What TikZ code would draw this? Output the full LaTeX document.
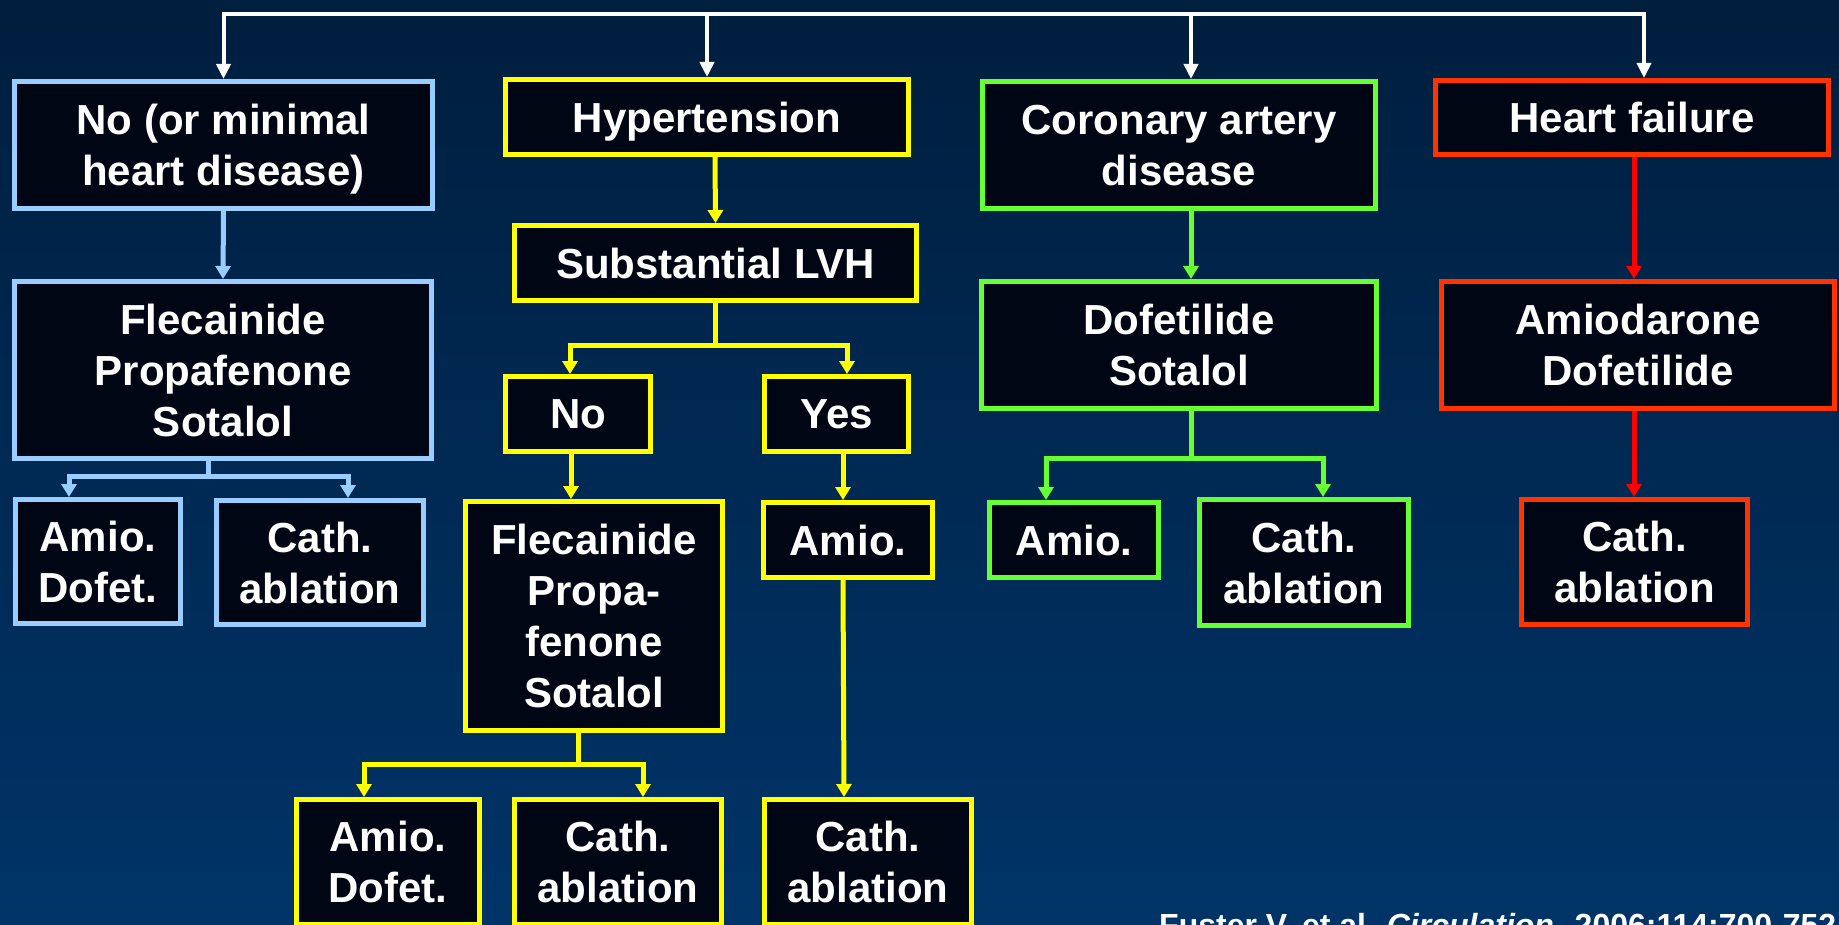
\documentclass[tikz,border=0pt]{standalone}
\usepackage{fontspec}
\setmainfont{Liberation Sans}
\usepackage{xcolor}
\usetikzlibrary{arrows.meta}
\definecolor{mytop}{RGB}{0,30,62}
\definecolor{mybottom}{RGB}{0,52,104}
\definecolor{myblack}{RGB}{0,6,20}
\definecolor{myblue}{RGB}{153,204,255}
\definecolor{myyellow}{RGB}{255,255,0}
\definecolor{mygreen}{RGB}{102,255,51}
\definecolor{myorange}{RGB}{255,51,0}
\definecolor{myred}{RGB}{255,0,0}

\begin{document}
\begin{tikzpicture}[x=1pt,y=-1pt,
box/.style={draw,fill=myblack,line width=5pt,text=white,align=center,inner sep=0pt,text depth=0pt,
  font=\bfseries\fontsize{42}{51}\selectfont},
link/.style={line width=5pt,-{Triangle[length=13pt,width=15pt]}},
stem/.style={line width=5pt},
wlink/.style={white,line width=4pt,-{Triangle[length=15pt,width=14pt]}}]

%frame
\clip (0,0) rectangle (1839,925);
\shade[top color=mytop,bottom color=mybottom] (0,0) rectangle (1839,925);

%no heart disease
\node[box,draw=myblue,minimum width=418pt,minimum height=127pt] (nomin) at (223.5,145) {No (or minimal\\heart disease)};
\node[box,draw=myblue,minimum width=417pt,minimum height=177pt] (leftdrug) at (223,370) {Flecainide\\Propafenone\\Sotalol};
\node[box,draw=myblue,minimum width=165pt,minimum height=124pt] (leftamio) at (98,561.5) {Amio.\\Dofet.};
\node[box,draw=myblue,minimum width=207pt,minimum height=124pt] (leftcath) at (320,562.5) {Cath.\\ablation};

%hypertension
\node[box,draw=myyellow,minimum width=403pt,minimum height=75pt] (hyper) at (707,117) {Hypertension};
\node[box,draw=myyellow,minimum width=402pt,minimum height=75pt] (lvh) at (715.5,263) {Substantial LVH};
\node[box,draw=myyellow,minimum width=145pt,minimum height=75pt] (lvhno) at (578,414) {No};
\node[box,draw=myyellow,minimum width=144pt,minimum height=75pt] (lvhyes) at (836.5,414) {Yes};
\node[box,draw=myyellow,minimum width=257pt,minimum height=229pt] (middrug) at (594,616) {Flecainide\\Propa-\\fenone\\Sotalol};
\node[box,draw=myyellow,minimum width=169pt,minimum height=75pt] (yesamio) at (848,540) {Amio.};
\node[box,draw=myyellow,minimum width=183pt,minimum height=125pt] (botamio) at (388,862) {Amio.\\Dofet.};
\node[box,draw=myyellow,minimum width=207pt,minimum height=125pt] (botcath) at (618,862) {Cath.\\ablation};
\node[box,draw=myyellow,minimum width=207pt,minimum height=125pt] (yescath) at (868,862) {Cath.\\ablation};

%coronary artery disease
\node[box,draw=mygreen,minimum width=393pt,minimum height=127pt] (cad) at (1179,145) {Coronary artery\\disease};
\node[box,draw=mygreen,minimum width=395pt,minimum height=127pt] (caddrug) at (1179,345) {Dofetilide\\Sotalol};
\node[box,draw=mygreen,minimum width=169pt,minimum height=75pt] (cadamio) at (1074,540) {Amio.};
\node[box,draw=mygreen,minimum width=209pt,minimum height=126pt] (cadcath) at (1304,562.5) {Cath.\\ablation};

%heart failure
\node[box,draw=myorange,minimum width=393pt,minimum height=74pt] (hf) at (1632,117.5) {Heart failure};
\node[box,draw=myorange,minimum width=393pt,minimum height=127pt] (hfdrug) at (1638,345) {Amiodarone\\Dofetilide};
\node[box,draw=myorange,minimum width=226pt,minimum height=125pt] (hfcath) at (1634.5,562) {Cath.\\ablation};

%top bus
\coordinate (bus) at (933,14);
\draw[wlink] (bus) -| (nomin.north);
\draw[wlink] (bus) -| (hyper.north);
\draw[wlink] (bus) -| ([xshift=12pt]cad.north);
\draw[wlink] (bus) -| ([xshift=12pt]hf.north);

%blue
\draw[link,myblue] (nomin.south) -- (leftdrug.north);
\coordinate (lsplit) at (208,476);
\draw[stem,myblue] ([xshift=-15pt]leftdrug.south) -- (lsplit);
\draw[link,myblue] (lsplit) -| ([xshift=-29pt]leftamio.north);
\draw[link,myblue] (lsplit) -| ([xshift=28pt]leftcath.north);

%yellow
\draw[link,myyellow] ([xshift=8pt]hyper.south) -- (lvh.north);
\coordinate (vsplit) at (715,345);
\draw[stem,myyellow] ([xshift=-0.5pt]lvh.south) -- (vsplit);
\draw[link,myyellow] (vsplit) -| ([xshift=-8pt]lvhno.north);
\draw[link,myyellow] (vsplit) -| ([xshift=10.5pt]lvhyes.north);
\draw[link,myyellow] ([xshift=-7pt]lvhno.south) -- ([xshift=-23pt]middrug.north);
\draw[link,myyellow] ([xshift=6.5pt]lvhyes.south) -- ([xshift=-5pt]yesamio.north);
\coordinate (msplit) at (578,764);
\draw[stem,myyellow] ([xshift=-16pt]middrug.south) -- (msplit);
\draw[link,myyellow] (msplit) -| ([xshift=-24pt]botamio.north);
\draw[link,myyellow] (msplit) -| ([xshift=25pt]botcath.north);
\draw[link,myyellow] ([xshift=-5pt]yesamio.south) -- ([xshift=-24pt]yescath.north);

%green
\draw[link,mygreen] ([xshift=12pt]cad.south) -- ([xshift=12pt]caddrug.north);
\coordinate (csplit) at (1191,458);
\draw[stem,mygreen] ([xshift=12pt]caddrug.south) -- (csplit);
\draw[link,mygreen] (csplit) -| ([xshift=-28pt]cadamio.north);
\draw[link,mygreen] (csplit) -| ([xshift=19pt]cadcath.north);

%red
\draw[link,myred] ([xshift=2pt]hf.south) -- ([xshift=-4pt]hfdrug.north);
\draw[link,myred] ([xshift=-4pt]hfdrug.south) -- ([xshift=-0.5pt]hfcath.north);

%source
\node[anchor=base west,text=white,inner sep=0pt,font=\bfseries\fontsize{32}{38}\selectfont] (cite) at (1159,936) {Fuster V, et al. \textit{Circulation}. 2006;114:700-752.};
\end{tikzpicture}
\end{document}
